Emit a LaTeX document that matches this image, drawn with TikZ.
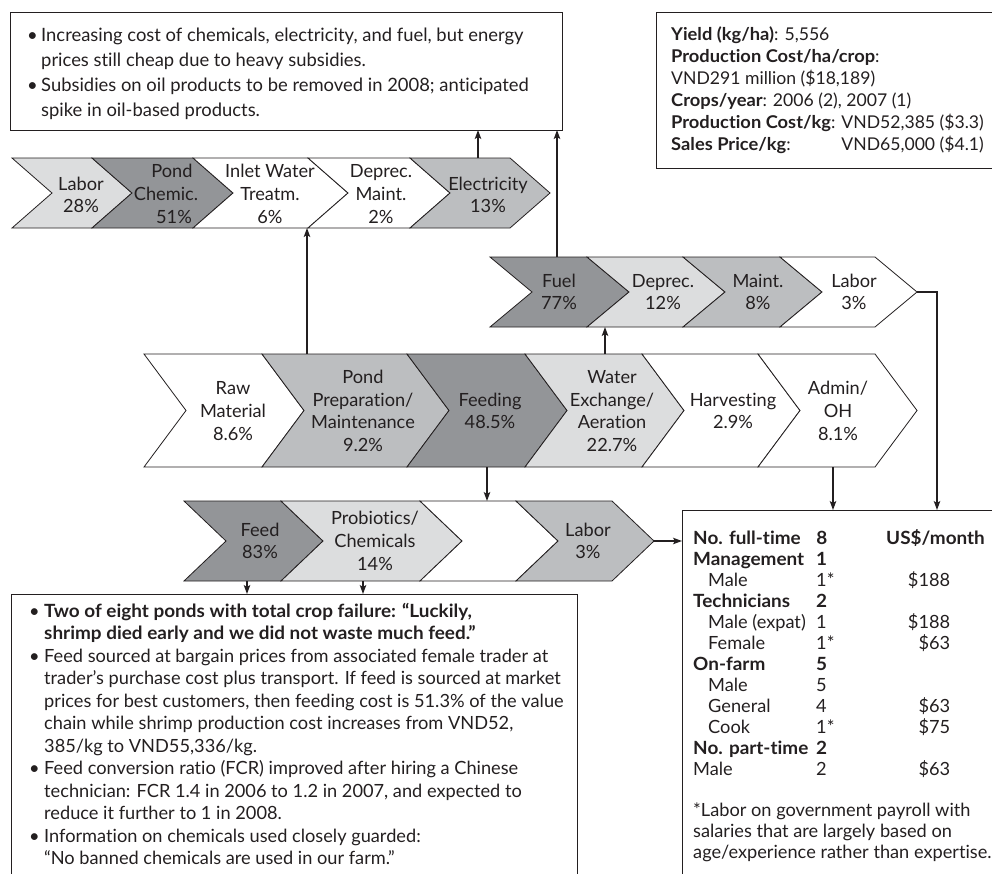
\documentclass[tikz,border=0pt]{standalone}
\usepackage{fontspec}
\setmainfont{Lato}[Ligatures={NoCommon}, BoldFeatures={FakeStretch=1.04}]
\usetikzlibrary{arrows.meta}
\definecolor{ink}{HTML}{231F20}
\definecolor{gdark}{HTML}{939598}
\definecolor{gmid}{HTML}{BCBEC0}
\definecolor{glight}{HTML}{DCDDDE}
% chevron: x-left, x-right (top corners), y-top, y-bottom, tip depth, fill
\newcommand\chev[6]{%
  \filldraw[chevline, fill=#6] (#1,#3) -- (#2,#3) -- ({#2+#5},{(#3+#4)/2}) -- (#2,#4)
    -- (#1,#4) -- ({#1+#5},{(#3+#4)/2}) -- cycle;}
% one row of the staffing table
\newcommand\staffrow[3]{\makebox[123pt][l]{#1}\makebox[80pt][l]{#2}\makebox[54pt][r]{#3}}
\newlength\pclen
\begin{document}
\begin{tikzpicture}[x=1pt,y=-1pt,
  chevline/.style={draw=ink, line width=0.8pt, line join=miter},
  ctext/.style={text=ink, align=center, font=\fontsize{18.2}{22.7}\selectfont, inner sep=0pt},
  boxline/.style={draw=ink, line width=0.9pt},
  btext/.style={text=ink, align=left, inner sep=0pt, anchor=north west},
  conn/.style={draw=ink, line width=1.2pt, -{Stealth[length=9pt,width=6.5pt,inset=2pt]}},
  wire/.style={draw=ink, line width=1.2pt}
]
\useasboundingbox (0,0) rectangle (992,873);
\clip (0,0) rectangle (992,873);

% ---------- note boxes ----------
\draw[boxline] (10,12) rectangle (562,130);
\node[btext, font=\fontsize{18.4}{25}\selectfont] (energynote) at (27,28)
  {\makebox[14pt][l]{•}Increasing cost of chemicals, electricity, and fuel, but energy\\
   \hspace*{14pt}prices still cheap due to heavy subsidies.\\
   \makebox[14pt][l]{•}Subsidies on oil products to be removed in 2008; anticipated\\
   \hspace*{14pt}spike in oil-based products.};

\draw[boxline] (656,12) rectangle (1000,168);
\node[btext, font=\fontsize{17.6}{22}\selectfont] (keyfigures) at (671,26.8)
  {\textbf{Yield (kg/ha)}: 5,556\\
   \textbf{Production Cost/ha/crop}:\\
   VND291 million (\$18,189)\\
   \textbf{Crops/year}: 2006 (2), 2007 (1)\\
   \textbf{Production Cost/kg}: VND52,385 (\$3.3)\\
   \settowidth{\pclen}{\textbf{Production Cost/kg}: VND52,385 (\$3.3)}%
   \makebox[\pclen][l]{\textbf{Sales Price/kg}:\hfill VND65,000 (\$4.1)}};

% ---------- top row: water exchange / aeration breakdown ----------
\chev{12}{92}{158}{228}{40}{glight}
\chev{92}{193}{158}{228}{40}{gdark}
\chev{193}{308}{158}{228}{40}{white}
\chev{308}{410}{158}{228}{40}{white}
\chev{410}{510}{158}{228}{40}{gmid}
\node[ctext] (t1) at (81,195) {Labor\\28\%};
\node[ctext] (t2) at (166,194) {\hspace*{12pt}Pond\\Chemic.\hspace*{14pt}\\\hspace*{16pt}51\%};
\node[ctext] (t3) at (270,194) {Inlet Water\\Treatm.\\6\%};
\node[ctext] (t4) at (381,194) {Deprec.\\Maint.\\2\%};
\node[ctext] (t5) at (488,195) {Electricity\\13\%};

% ---------- second row: pond preparation breakdown ----------
\chev{490}{587}{257}{327}{42}{gdark}
\chev{587}{683}{257}{327}{42}{glight}
\chev{683}{780}{257}{327}{42}{gmid}
\chev{780}{875}{257}{327}{42}{white}
\node[ctext] (f1) at (559,292) {Fuel\\77\%};
\node[ctext] (f2) at (663,292) {Deprec.\\12\%};
\node[ctext] (f3) at (758,292) {Maint.\\8\%};
\node[ctext] (f4) at (854,292) {Labor\\3\%};

% ---------- main value chain ----------
\chev{144}{262}{354}{467}{42}{white}
\chev{262}{407}{354}{467}{42}{gmid}
\chev{407}{525}{354}{467}{42}{gdark}
\chev{525}{642}{354}{467}{42}{glight}
\chev{642}{758}{354}{467}{42}{white}
\chev{758}{875}{354}{467}{42}{white}
\node[ctext] (raw) at (233,411) {Raw\\Material\\8.6\%};
\node[ctext] (pond) at (363,411) {Pond\\Preparation/\\Maintenance\\9.2\%};
\node[ctext] (feeding) at (490,411) {Feeding\\48.5\%};
\node[ctext] (water) at (612,411) {Water\\Exchange/\\Aeration\\22.7\%};
\node[ctext] (harvest) at (733,411) {Harvesting\\2.9\%};
\node[ctext] (admin) at (838,411) {Admin/\\OH\\8.1\%};

% ---------- feeding breakdown ----------
\chev{184}{281}{501}{581}{42}{gdark}
\chev{281}{420}{501}{581}{42}{glight}
\chev{420}{516}{501}{581}{42}{white}
\chev{516}{612}{501}{581}{42}{gmid}
\node[ctext] (b1) at (260,541) {Feed\\83\%};
\node[ctext] (b2) at (375,541) {Probiotics/\\Chemicals\\14\%};
\node[ctext] (b4) at (588,541) {Labor\\3\%};

% ---------- feeding notes ----------
\draw[boxline] (11,880) -- (11,594) -- (577,594) -- (577,880);
\node[btext, font=\fontsize{18.2}{22.5}\selectfont] (feednote) at (29,602.6)
  {\makebox[15pt][l]{•}\textbf{Two of eight ponds with total crop failure: “Luckily,}\\
   \hspace*{15pt}\textbf{shrimp died early and we did not waste much feed.”}\\
   \makebox[15pt][l]{•}Feed sourced at bargain prices from associated female trader at\\
   \hspace*{15pt}trader’s purchase cost plus transport. If feed is sourced at market\\
   \hspace*{15pt}prices for best customers, then feeding cost is 51.3\% of the value\\
   \hspace*{15pt}chain while shrimp production cost increases from VND52,\\
   \hspace*{15pt}385/kg to VND55,336/kg.\\
   \makebox[15pt][l]{•}Feed conversion ratio (FCR) improved after hiring a Chinese\\
   \hspace*{15pt}technician: FCR 1.4 in 2006 to 1.2 in 2007, and expected to\\
   \hspace*{15pt}reduce it further to 1 in 2008.\\
   \makebox[15pt][l]{•}Information on chemicals used closely guarded:\\
   \hspace*{15pt}“No banned chemicals are used in our farm.”};

% ---------- labor box ----------
\draw[boxline] (682,880) -- (682,510) -- (1000,510);
\node[btext, font=\fontsize{18.2}{21}\selectfont] (staff) at (693,529.6)
  {\staffrow{\textbf{No. full-time}}{\textbf{8}\hspace*{59pt}\textbf{US\$/month}}{}\\
   \staffrow{\textbf{Management}}{\textbf{1}}{}\\
   \staffrow{\hspace*{15pt}Male}{1*}{\$188}\\
   \staffrow{\textbf{Technicians}}{\textbf{2}}{}\\
   \staffrow{\hspace*{15pt}Male (expat)}{1}{\$188}\\
   \staffrow{\hspace*{15pt}Female}{1*}{\$63}\\
   \staffrow{\textbf{On-farm}}{\textbf{5}}{}\\
   \staffrow{\hspace*{15pt}Male}{5}{}\\
   \staffrow{\hspace*{15pt}General}{4}{\$63}\\
   \staffrow{\hspace*{15pt}Cook}{1*}{\$75}\\
   \staffrow{\textbf{No. part-time}}{\textbf{2}}{}\\
   \staffrow{Male}{2}{\$63}};
\node[btext, font=\fontsize{18.2}{21}\selectfont] (payroll) at (693,802.6)
  {*Labor on government payroll with\\
   salaries that are largely based on\\
   age/experience rather than expertise.};

% ---------- connectors ----------
\coordinate (pondTop) at (307,354);
\coordinate (rowOneBot) at (307,228);
\coordinate (elecTop) at (478,158);
\coordinate (noteBotA) at (478,130);
\coordinate (fuelTop) at (557,257);
\coordinate (noteBotB) at (557,130);
\coordinate (waterTop) at (605,354);
\coordinate (rowTwoBot) at (605,327);
\coordinate (laborTip) at (917,292);
\coordinate (laborBend) at (937,292);
\coordinate (staffTopA) at (937,510);
\coordinate (adminBot) at (833,467);
\coordinate (staffTopB) at (833,510);
\coordinate (feedingBot) at (487,467);
\coordinate (rowFourTop) at (487,501);
\coordinate (labTipB) at (653,541);
\coordinate (staffLeft) at (682,541);
\coordinate (feedBot) at (247,581);
\coordinate (noteTopA) at (247,594);
\coordinate (probBot) at (363,581);
\coordinate (noteTopB) at (363,594);

\draw[conn] (pondTop) -- (rowOneBot);
\draw[conn] (elecTop) -- (noteBotA);
\draw[conn] (fuelTop) -- (noteBotB);
\draw[conn] (waterTop) -- (rowTwoBot);
\draw[conn] (laborTip) -- (laborBend) -- (staffTopA);
\draw[conn] (adminBot) -- (staffTopB);
\draw[conn] (feedingBot) -- (rowFourTop);
\draw[conn] (labTipB) -- (staffLeft);
\draw[conn] (feedBot) -- (noteTopA);
\draw[conn] (probBot) -- (noteTopB);
\end{tikzpicture}
\end{document}
